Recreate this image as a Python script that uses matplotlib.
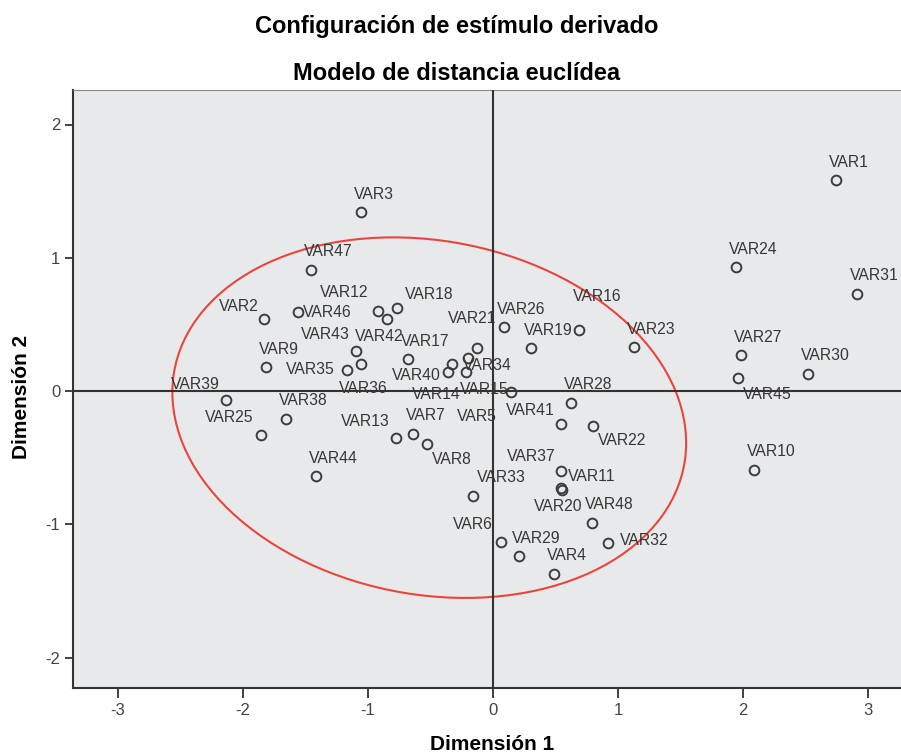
import matplotlib.pyplot as plt
from matplotlib.patches import Ellipse

plt.rcParams['font.family'] = ['Liberation Sans', 'DejaVu Sans']
plt.rcParams['axes.unicode_minus'] = False

# puntos del modelo (dimension 1, dimension 2)
labels = ['VAR1', 'VAR2', 'VAR3', 'VAR4', 'VAR5', 'VAR6', 'VAR7', 'VAR8',
          'VAR9', 'VAR10', 'VAR11', 'VAR12', 'VAR13', 'VAR14', 'VAR15', 'VAR16',
          'VAR17', 'VAR18', 'VAR19', 'VAR20', 'VAR21', 'VAR22', 'VAR23', 'VAR24',
          'VAR25', 'VAR26', 'VAR27', 'VAR28', 'VAR29', 'VAR30', 'VAR31', 'VAR32',
          'VAR33', 'VAR34', 'VAR35', 'VAR36', 'VAR37', 'VAR38', 'VAR39', 'VAR40',
          'VAR41', 'VAR42', 'VAR43', 'VAR44', 'VAR45', 'VAR46', 'VAR47', 'VAR48']
dim1 = [2.74, -1.83, -1.06, 0.49, -0.20, 0.06, -0.64, -0.53,
        -1.82, 2.09, 0.54, -0.92, -0.78, -0.33, 0.14, 0.69,
        -0.68, -0.77, 0.30, 0.55, -0.13, 0.80, 1.13, 1.94,
        -1.86, 0.09, 1.98, 0.62, 0.21, 2.52, 2.91, 0.92,
        -0.16, -0.22, -1.17, -1.06, 0.54, -1.66, -2.14, -0.36,
        0.54, -0.85, -1.10, -1.42, 1.96, -1.56, -1.46, 0.79]
dim2 = [1.58, 0.54, 1.34, -1.37, 0.25, -1.13, -0.32, -0.40,
        0.18, -0.59, -0.73, 0.60, -0.35, 0.20, -0.01, 0.46,
        0.24, 0.62, 0.32, -0.74, 0.32, -0.26, 0.33, 0.93,
        -0.33, 0.48, 0.27, -0.09, -1.24, 0.13, 0.73, -1.14,
        -0.79, 0.14, 0.16, 0.20, -0.60, -0.21, -0.07, 0.14,
        -0.25, 0.54, 0.30, -0.64, 0.10, 0.59, 0.91, -0.99]

ticks = [-3, -2, -1, 0, 1, 2, 3]
yticks = [-2, -1, 0, 1, 2]

# elipse roja (centro, ancho, alto, angulo)
ell_center = (-0.51, -0.20)
ell_w, ell_h, ell_ang = 4.14, 2.66, -9

# posicion de las etiquetas (px: dx, dy hacia abajo, alineacion)
default_pos = (-7, -18, 'left')
label_pos = {
    'VAR2': (-6, -13, 'right'), 'VAR5': (-11, 59, 'left'),
    'VAR6': (-8, -17, 'right'), 'VAR8': (5, 15, 'left'),
    'VAR11': (7, -12, 'left'), 'VAR12': (-10, -19, 'right'),
    'VAR13': (-6, -16, 'right'), 'VAR14': (-40, 30, 'left'),
    'VAR15': (-2, -3, 'right'), 'VAR16': (-6, -33, 'left'),
    'VAR18': (8, -14, 'left'), 'VAR20': (-28, 17, 'left'),
    'VAR21': (-29, -30, 'left'), 'VAR22': (5, 15, 'left'),
    'VAR25': (-7, -17, 'right'), 'VAR32': (12, -2, 'left'),
    'VAR33': (4, -19, 'left'), 'VAR34': (-3, -7, 'left'),
    'VAR35': (-12, 0, 'right'), 'VAR36': (-22, 24, 'left'),
    'VAR37': (-5, -14, 'right'), 'VAR39': (-6, -16, 'right'),
    'VAR40': (-7, 3, 'right'), 'VAR41': (-6, -14, 'right'),
    'VAR42': (-32, 17, 'left'), 'VAR43': (-6, -17, 'right'),
    'VAR45': (5, 17, 'left'), 'VAR46': (5, 0, 'left'),
}

W, H = 901, 755
fig = plt.figure(figsize=(W / 100, H / 100), dpi=100)
ax = fig.add_axes([73 / W, (H - 688) / H, (W - 73) / W, (688 - 90) / H])
ax.set_facecolor('#e8e9eb')

ax.axhline(0, color='#333333', lw=1.5, zorder=5)
ax.axvline(0, color='#333333', lw=1.5, zorder=5)

ax.add_patch(Ellipse(ell_center, ell_w, ell_h, angle=ell_ang, fill=False,
                     edgecolor='#e8453c', lw=1.5, zorder=2))

ax.plot(dim1, dim2, 'o', mfc='none', mec='#3c3c3c', ms=7, mew=1.4, zorder=3)

for name, x, y in zip(labels, dim1, dim2):
    dx, dy, ha = label_pos.get(name, default_pos)
    ax.annotate(name, (x, y), xytext=(dx, -dy), textcoords='offset pixels',
                ha=ha, va='center', fontsize=11.3, color='#363636', zorder=4)

ax.set_xlim((73 - 493) / 125, (W - 493) / 125)
ax.set_ylim((391 - 688) / 133.25, (391 - 90) / 133.25)
ax.set_xticks(ticks)
ax.set_yticks(yticks)
ax.tick_params(axis='both', colors='#333333', labelcolor='#444444',
               labelsize=12, length=7, width=1.3)
ax.tick_params(axis='y', length=6, pad=3)

ax.spines['right'].set_visible(False)
ax.spines['top'].set_color('#8a8a8a')
ax.spines['top'].set_linewidth(0.8)
for s in ['left', 'bottom']:
    ax.spines[s].set_color('#333333')
    ax.spines[s].set_linewidth(1.5)

fig.text(457 / W, 1 - 27 / H, 'Configuración de estímulo derivado',
         ha='center', va='center', fontsize=17, fontweight='bold')
fig.text(457 / W, 1 - 73 / H, 'Modelo de distancia euclídea',
         ha='center', va='center', fontsize=17, fontweight='bold')
fig.text(492 / W, 1 - 745 / H, 'Dimensión 1', ha='center', va='center',
         fontsize=15, fontweight='bold')
fig.text(22 / W, 1 - 397 / H, 'Dimensión 2', ha='center', va='center',
         rotation=90, fontsize=15, fontweight='bold')

fig.savefig('out.png', dpi=100, facecolor='white')
